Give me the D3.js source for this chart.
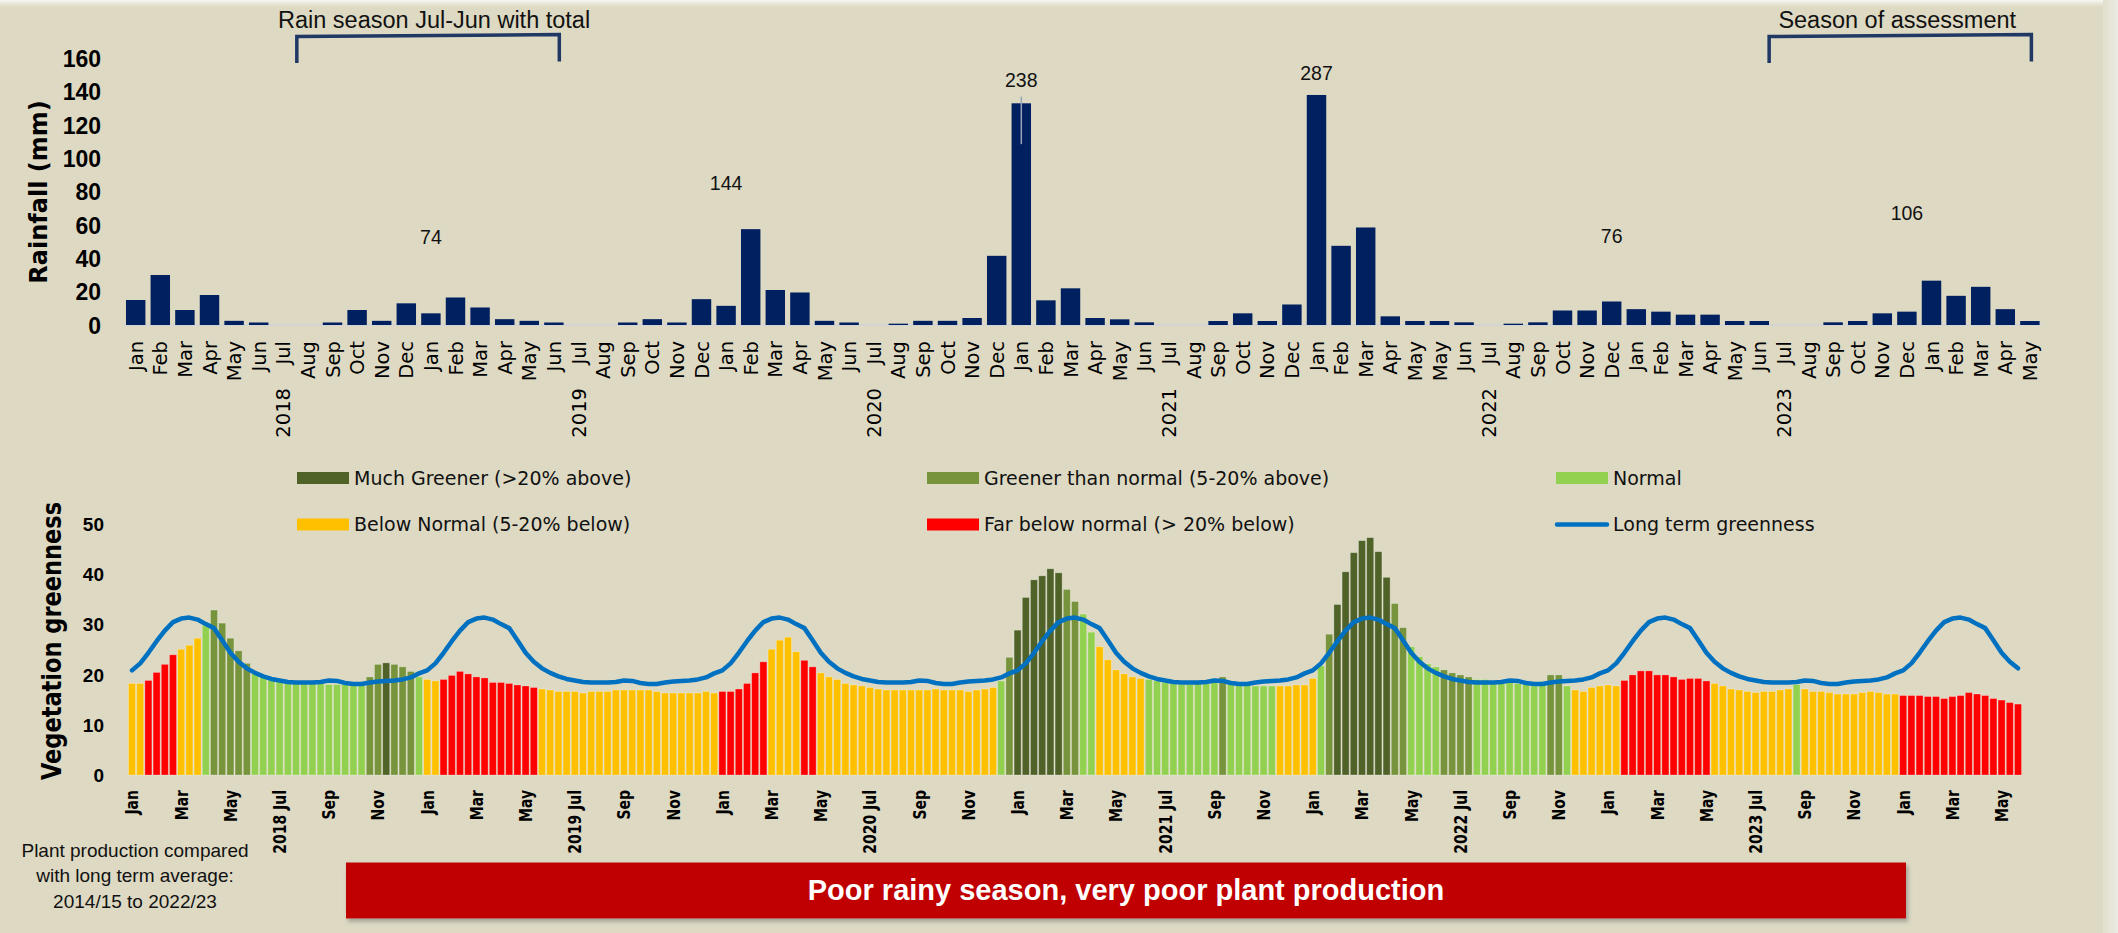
<!DOCTYPE html>
<html>
<head>
<meta charset="utf-8">
<script src="https://cdn.jsdelivr.net/npm/d3@7"></script>
<style>
  html, body { margin: 0; padding: 0; background: #ddd9c3; }
  svg { display: block; }
</style>
</head>
<body>
<svg id="chart" width="2118" height="933"></svg>
<script>
// ---------------- DATA ----------------
// Monthly rainfall (mm), Jan 2018 .. May 2024 (the original axis repeats "May" in 2022)
const rainMonths = [
  "Jan","Feb","Mar","Apr","May","Jun","Jul","Aug","Sep","Oct","Nov","Dec",
  "Jan","Feb","Mar","Apr","May","Jun","Jul","Aug","Sep","Oct","Nov","Dec",
  "Jan","Feb","Mar","Apr","May","Jun","Jul","Aug","Sep","Oct","Nov","Dec",
  "Jan","Feb","Mar","Apr","May","Jun","Jul","Aug","Sep","Oct","Nov","Dec",
  "Jan","Feb","Mar","Apr","May","May","Jun","Jul","Aug","Sep","Oct","Nov","Dec",
  "Jan","Feb","Mar","Apr","May","Jun","Jul","Aug","Sep","Oct","Nov","Dec",
  "Jan","Feb","Mar","Apr","May"
];
const rainfall = [
  15, 30, 9, 18, 2.5, 1.5, 0, 0, 1.5, 9, 2.5, 13,
  7, 16.5, 10.5, 3.5, 2.5, 1.5, 0, 0, 1.5, 3.5, 1.5, 15.5,
  11.5, 57.5, 21, 19.5, 2.5, 1.5, 0, 0.8, 2.5, 2.5, 4.2, 41.5,
  133, 14.8, 22, 4.2, 3.4, 1.6, 0, 0, 2.4, 7, 2.4, 12.3,
  138, 47.5, 58.5, 5.2, 2.4, 2.4, 1.6, 0, 0.8, 1.6, 8.7, 8.7, 14.1,
  9.5, 8, 6.2, 6.2, 2.4, 2.4, 0, 0, 1.6, 2.4, 7, 8,
  26.6, 17.5, 22.9, 9.5, 2.4
];
const rainYearLabels = ["2018", "2019", "2020", "2021", "2022", "2023"];
const rainYearAt     = [6, 18, 30, 42, 55, 67];          // category index (July of each year)
const rainTicks      = [0, 20, 40, 60, 80, 100, 120, 140, 160];
// Rain-season totals (Jul-Jun) shown as labels
const seasonTotals   = [74, 144, 238, 287, 76, 106];
const seasonLabelAt  = [12, 24, 36, 48, 60, 72];          // category index
const seasonLabelVal = [52.6, 85, 147, 151, 53.6, 67.2];   // label height in mm
// grey error-bar artefact on Jan 2021
const rainErrAt = [36], rainErrLow = [108.5], rainErrHigh = [137];

// Dekadal vegetation greenness, Jan 2018 d1 .. May 2024 d3
const greenness = [
  // 2018
  18.2,18.2,18.8,20.4,22.0,23.9,25.0,25.8,27.2,29.8,32.8,30.2,27.2,24.7,22.2,20.5,19.5,19.0,
  18.6,18.4,18.2,18.2,18.2,18.2,18.0,18.0,18.0,17.9,17.9,19.5,22.0,22.3,22.0,21.5,20.6,19.5,
  // 2019
  19.0,18.7,19.0,19.8,20.6,20.1,19.5,19.3,18.4,18.4,18.2,17.9,17.7,17.4,17.1,16.9,16.6,16.6,
  16.6,16.3,16.6,16.6,16.6,16.9,16.9,16.9,16.9,16.9,16.6,16.3,16.3,16.3,16.3,16.3,16.6,16.3,
  // 2020
  16.6,16.6,17.1,18.2,20.3,22.5,25.0,26.8,27.4,24.5,22.8,21.5,20.3,19.5,19.0,18.2,17.9,17.7,
  17.4,17.1,16.9,16.9,16.9,16.9,16.9,16.9,17.1,16.9,16.9,16.9,16.6,16.9,17.1,17.4,18.7,23.4,
  // 2021
  28.8,35.3,38.8,39.6,41.0,40.2,36.9,34.5,32.0,28.4,25.5,22.9,20.9,20.1,19.5,19.2,19.0,18.7,
  18.4,18.2,18.0,18.0,18.2,18.2,19.2,19.5,18.2,17.8,17.8,17.7,17.7,17.7,17.7,17.7,17.9,17.9,
  // 2022
  19.2,21.7,28.0,33.9,40.4,44.2,46.6,47.2,44.4,39.3,34.1,29.3,25.5,23.5,22.1,21.5,20.9,20.3,
  19.9,19.5,19.0,19.0,18.4,18.2,18.4,18.2,18.0,17.7,18.6,19.9,19.9,17.7,16.9,16.6,17.4,17.7,
  // 2023
  17.9,17.7,18.8,19.9,20.7,20.7,19.9,19.9,19.5,19.0,19.2,19.2,18.7,18.2,17.7,17.1,16.9,16.6,
  16.4,16.6,16.6,16.9,17.1,18.0,17.1,16.6,16.6,16.4,16.1,16.1,16.1,16.4,16.6,16.4,16.1,16.1,
  // 2024
  15.8,15.8,15.8,15.6,15.6,15.2,15.6,15.8,16.4,16.1,15.8,15.2,14.9,14.4,14.1
];
// Class of each dekad: D much greener, G greener, N normal, B below normal, F far below
const greennessClass = [
  "BBFFFFBBBNGGGGGNNNNNNNNNNNNNNGGDGGGN",   // 2018
  "BBFFFFFFFFFFFFBBBBBBBBBBBBBBBBBBBBBB",   // 2019
  "FFFFFFBBBBFFBBBBBBBBBBBBBBBBBBBBBBNG",   // 2020
  "DDDDDDGGNNBBBBBBNNNNNNNNNGNNNNNNBBBB",   // 2021
  "BNGDDDDDDDGGNNNNGGGGNNNNNNNNNGGNBBBB",   // 2022
  "BBFFFFFFFFFFFBBBBBBBBBBNBBBBBBBBBBBB",   // 2023
  "FFFFFFFFFFFFFFF"                        // 2024
].join("").split("");
// Long-term mean greenness for the 36 dekads of the year
const longTermByDekad = [
  20.8,22.2,24.3,26.6,28.7,30.4,31.1,31.3,30.9,30.0,29.2,26.8,24.3,22.5,21.2,20.3,19.6,19.1,
  18.8,18.5,18.4,18.4,18.4,18.5,18.8,18.7,18.3,18.1,18.1,18.4,18.6,18.7,18.8,19.0,19.4,20.2
];
const greenTickLabels = [
  "Jan","Mar","May","2018 Jul","Sep","Nov",
  "Jan","Mar","May","2019 Jul","Sep","Nov",
  "Jan","Mar","May","2020 Jul","Sep","Nov",
  "Jan","Mar","May","2021 Jul","Sep","Nov",
  "Jan","Mar","May","2022 Jul","Sep","Nov",
  "Jan","Mar","May","2023 Jul","Sep","Nov",
  "Jan","Mar","May"
];
const greenTicks = [0, 10, 20, 30, 40, 50];
const classKeys   = ["D", "G", "N", "B", "F"];
const classNames  = ["Much Greener (>20% above)", "Greener than normal (5-20% above)", "Normal",
                     "Below Normal (5-20% below)", "Far below normal (> 20% below)"];
const lineName    = "Long term greenness";

// ---------------- STYLE ----------------
const BG = "#ddd9c3";
const classColor = d3.scaleOrdinal().domain(classKeys)
  .range(["#4f6228", "#77933c", "#92d050", "#ffc000", "#ff0000"]);
const RAIN_COLOR = "#002060";
const LINE_COLOR = "#0070c0";

const svg = d3.select("#chart");
const defs = svg.append("defs");
const gTop = defs.append("linearGradient").attr("id", "topfade").attr("x1", 0).attr("x2", 0).attr("y1", 0).attr("y2", 1);
gTop.append("stop").attr("offset", 0).attr("stop-color", "#f7f6f1");
gTop.append("stop").attr("offset", 1).attr("stop-color", BG);
const gRight = defs.append("linearGradient").attr("id", "rightfade").attr("x1", 0).attr("x2", 1).attr("y1", 0).attr("y2", 0);
gRight.append("stop").attr("offset", 0).attr("stop-color", "#e2dfcc");
gRight.append("stop").attr("offset", 1).attr("stop-color", "#ecebe3");
const shadow = defs.append("filter").attr("id", "shadow").attr("x", "-5%").attr("y", "-30%").attr("width", "110%").attr("height", "170%");
shadow.append("feDropShadow").attr("dx", 2).attr("dy", 3).attr("stdDeviation", 2)
  .attr("flood-color", "#6e6e6e").attr("flood-opacity", 0.55);

svg.append("rect").attr("width", 2118).attr("height", 933).attr("fill", BG);
svg.append("rect").attr("width", 2118).attr("height", 7).attr("fill", "url(#topfade)");
svg.append("rect").attr("x", 2103).attr("width", 15).attr("height", 933).attr("fill", "url(#rightfade)");

// ---------------- TOP CHART: RAINFALL ----------------
const xTop = d3.scaleBand().domain(d3.range(rainfall.length))
  .range([123.4, 2042.2]).paddingInner(0.21).paddingOuter(0.105);
const yTop = d3.scaleLinear().domain([0, 160]).range([325, 58.3]);
const cTop = i => xTop(i) + xTop.bandwidth() / 2;

// baseline
svg.append("line").attr("x1", xTop.range()[0]).attr("x2", xTop.range()[1])
  .attr("y1", yTop(0)).attr("y2", yTop(0)).attr("stroke", "#d4d4d4").attr("stroke-width", 2);

svg.append("g").selectAll("rect").data(rainfall).join("rect")
  .attr("x", (d, i) => xTop(i)).attr("width", xTop.bandwidth())
  .attr("y", d => yTop(d)).attr("height", d => yTop(0) - yTop(d))
  .attr("fill", RAIN_COLOR);

// error-bar artefact
svg.append("g").selectAll("line").data(rainErrAt).join("line")
  .attr("x1", d => cTop(d)).attr("x2", d => cTop(d))
  .attr("y1", (d, k) => yTop(rainErrHigh[k])).attr("y2", (d, k) => yTop(rainErrLow[k]))
  .attr("stroke", "#9aa3b5").attr("stroke-width", 1.5);

// y axis
const yAxisTop = svg.append("g").attr("transform", "translate(101,0)")
  .call(d3.axisLeft(yTop).tickValues(rainTicks).tickSize(0).tickPadding(0));
yAxisTop.select(".domain").remove();
yAxisTop.selectAll("text").attr("font-family", "Liberation Sans, Arial, sans-serif")
  .attr("font-weight", "bold").attr("font-size", 23).attr("fill", "#000").attr("dy", "0.36em");

svg.append("text").attr("transform", "translate(47,192) rotate(-90)")
  .attr("text-anchor", "middle").attr("font-family", "DejaVu Sans, sans-serif")
  .attr("font-weight", "bold").attr("font-size", 24).attr("fill", "#000")
  .text("Rainfall (mm)");

// month labels
svg.append("g").selectAll("text").data(rainMonths).join("text")
  .attr("transform", (d, i) => `translate(${cTop(i)},341) rotate(-90)`)
  .attr("text-anchor", "end").attr("dy", "0.36em")
  .attr("font-family", "DejaVu Sans, sans-serif").attr("font-size", 19.5).attr("fill", "#000")
  .text(d => d);
svg.append("g").selectAll("text").data(rainYearLabels).join("text")
  .attr("transform", (d, k) => `translate(${cTop(rainYearAt[k])},388) rotate(-90)`)
  .attr("text-anchor", "end").attr("dy", "0.36em")
  .attr("font-family", "DejaVu Sans, sans-serif").attr("font-size", 19.5).attr("fill", "#000")
  .text(d => d);

// season totals
svg.append("g").selectAll("text").data(seasonTotals).join("text")
  .attr("x", (d, k) => cTop(seasonLabelAt[k])).attr("y", (d, k) => yTop(seasonLabelVal[k]))
  .attr("dy", "0.36em").attr("text-anchor", "middle")
  .attr("font-family", "Liberation Sans, Arial, sans-serif").attr("font-size", 19.5).attr("fill", "#111")
  .text(d => d);

// brackets (annotations)
const brackets = [
  { from: 6.55, to: 17.22, label: "Rain season Jul-Jun with total" },
  { from: 66.4, to: 77.06, label: "Season of assessment" }
];
const step = xTop.step();
const posTop = v => cTop(0) + v * step;
svg.append("g").selectAll("path").data(brackets).join("path")
  .attr("d", b => `M${posTop(b.from)},63 L${posTop(b.from)},36.5 L${posTop(b.to)},34.5 L${posTop(b.to)},61.5`)
  .attr("fill", "none").attr("stroke", "#1f3864").attr("stroke-width", 3.5);
svg.append("g").selectAll("text").data(brackets).join("text")
  .attr("x", b => (posTop(b.from) + posTop(b.to)) / 2 + (b.from < 10 ? 6 : -3)).attr("y", 27.5)
  .attr("text-anchor", "middle").attr("font-family", "Liberation Sans, Arial, sans-serif")
  .attr("font-size", 23.5).attr("fill", "#111").text(b => b.label);

// ---------------- BOTTOM CHART: GREENNESS ----------------
const xBot = d3.scaleBand().domain(d3.range(greenness.length))
  .range([127.9, 2022.1]).paddingInner(0.14).paddingOuter(0.07);
const yBot = d3.scaleLinear().domain([0, 50]).range([775, 523.5]);
const cBot = i => xBot(i) + xBot.bandwidth() / 2;

svg.append("g").selectAll("rect").data(greenness).join("rect")
  .attr("x", (d, i) => xBot(i)).attr("width", xBot.bandwidth())
  .attr("y", d => yBot(d)).attr("height", d => yBot(0) - yBot(d))
  .attr("fill", (d, i) => classColor(greennessClass[i]))
  .attr("stroke", "#ffffff").attr("stroke-opacity", 0.35).attr("stroke-width", 0.8);

const longTerm = greenness.map((d, i) => longTermByDekad[i % 36]);
svg.append("path").datum(longTerm)
  .attr("d", d3.line().x((d, i) => cBot(i)).y(d => yBot(d)))
  .attr("fill", "none").attr("stroke", LINE_COLOR).attr("stroke-width", 4.5)
  .attr("stroke-linejoin", "round").attr("stroke-linecap", "round");

// y axis
const yAxisBot = svg.append("g").attr("transform", "translate(104,0)")
  .call(d3.axisLeft(yBot).tickValues(greenTicks).tickSize(0).tickPadding(0));
yAxisBot.select(".domain").remove();
yAxisBot.selectAll("text").attr("font-family", "Liberation Sans, Arial, sans-serif")
  .attr("font-weight", "bold").attr("font-size", 19).attr("fill", "#000").attr("dy", "0.36em");

svg.append("text").attr("transform", "translate(61,641) rotate(-90) scale(1,1.18)")
  .attr("text-anchor", "middle").attr("font-family", "DejaVu Sans, sans-serif")
  .attr("font-weight", "bold").attr("font-size", 22.5).attr("fill", "#000")
  .text("Vegetation greenness");

// x labels every 6 dekads (2 months)
svg.append("g").selectAll("text").data(greenTickLabels).join("text")
  .attr("transform", (d, k) => `translate(${cBot(k * 6)},790) rotate(-90) scale(1,1.25)`)
  .attr("text-anchor", "end").attr("dy", "0.36em")
  .attr("font-family", "DejaVu Sans, sans-serif").attr("font-weight", "bold")
  .attr("font-size", 14).attr("fill", "#000")
  .text(d => d);

// legend
const legendItems = classKeys.map((k, i) => ({ key: k, name: classNames[i], type: "rect" }))
  .concat([{ key: "L", name: lineName, type: "line" }]);
const legCols = [297, 927, 1556];
const legRows = [478, 524.5];
const leg = svg.append("g").selectAll("g").data(legendItems).join("g")
  .attr("transform", (d, i) => `translate(${legCols[i % 3]},${legRows[Math.floor(i / 3)]})`);
leg.filter(d => d.type === "rect").append("rect")
  .attr("x", 0).attr("y", -6).attr("width", 52).attr("height", 12)
  .attr("fill", d => classColor(d.key));
leg.filter(d => d.type === "line").append("line")
  .attr("x1", 1).attr("x2", 51).attr("y1", 0).attr("y2", 0)
  .attr("stroke", LINE_COLOR).attr("stroke-width", 4.5).attr("stroke-linecap", "round");
leg.append("text").attr("x", 57).attr("y", 6.5)
  .attr("font-family", "DejaVu Sans, sans-serif").attr("font-size", 19).attr("fill", "#111")
  .text(d => d.name);

// ---------------- FOOTER ----------------
const noteLines = ["Plant production compared", "with long term average:", "2014/15 to 2022/23"];
svg.append("g").selectAll("text").data(noteLines).join("text")
  .attr("x", 135).attr("y", (d, i) => 856.5 + i * 25.8)
  .attr("text-anchor", "middle").attr("font-family", "Liberation Sans, Arial, sans-serif")
  .attr("font-size", 19).attr("fill", "#111").text(d => d);

svg.append("rect").attr("x", 346).attr("y", 862.5).attr("width", 1560).attr("height", 56)
  .attr("fill", "#c00000").attr("filter", "url(#shadow)");
svg.append("text").attr("x", 1126).attr("y", 900)
  .attr("text-anchor", "middle").attr("font-family", "Liberation Sans, Arial, sans-serif")
  .attr("font-weight", "bold").attr("font-size", 29).attr("fill", "#ffffff")
  .text("Poor rainy season, very poor plant production");
</script>
</body>
</html>
